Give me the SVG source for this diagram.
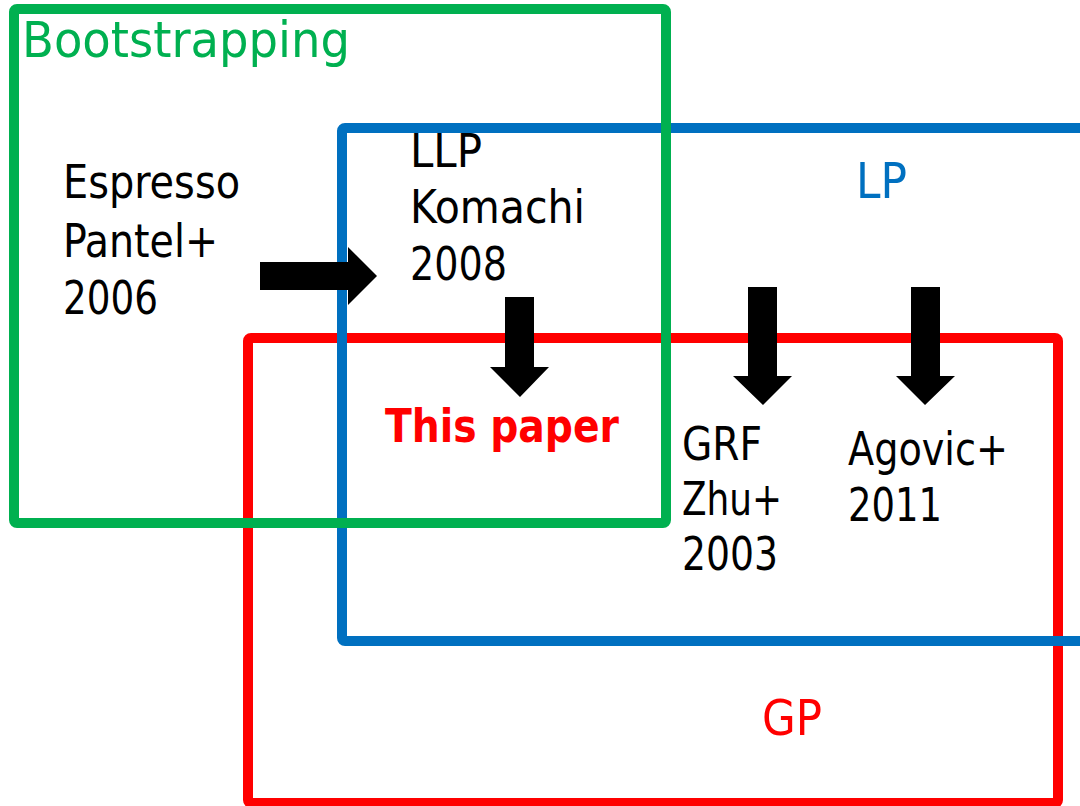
<svg xmlns="http://www.w3.org/2000/svg" width="1080" height="806" viewBox="0 0 1080 806">
<style>
.box{fill:none;stroke-width:10;stroke-linejoin:round}
.t{font-family:"DejaVu Sans Condensed","DejaVu Sans","Noto Sans",sans-serif;font-size:46px;fill:#000}
.arrow{fill:#000}
</style>
<rect width="1080" height="806" fill="#fff"/>
<g id="gp-box">
<rect class="box" x="248" y="338" width="810" height="465" rx="3" stroke="#FF0000"/>
<text class="t" x="762" y="735" style="font-size:50px;fill:#FF0000" textLength="60" lengthAdjust="spacingAndGlyphs">GP</text>
</g>
<g id="lp-box">
<rect class="box" x="342" y="128" width="780" height="513" rx="3" stroke="#0070C0"/>
<text class="t" x="856" y="198" style="font-size:50px;fill:#0070C0" textLength="51" lengthAdjust="spacingAndGlyphs">LP</text>
</g>
<g id="bootstrapping-box">
<rect class="box" x="14" y="9" width="652" height="514" rx="3" stroke="#00B050"/>
<text class="t" x="22" y="57" style="font-size:50px;fill:#00B050" textLength="328" lengthAdjust="spacingAndGlyphs">Bootstrapping</text>
</g>
<g id="connectors">
<polygon class="arrow" points="260,262 348,262 348,247 377,276 348,305 348,290 260,290"/>
<polygon class="arrow" points="505,297 534,297 534,367 549,367 520,397 490,367 505,367"/>
<polygon class="arrow" points="748,287 777,287 777,376 792,376 763,405 733,376 748,376"/>
<polygon class="arrow" points="911,287 940,287 940,376 955,376 925,405 896,376 911,376"/>
</g>
<g id="espresso">
<text class="t" x="63" y="198" textLength="177" lengthAdjust="spacingAndGlyphs">Espresso</text>
<text class="t" x="63" y="257" textLength="155" lengthAdjust="spacingAndGlyphs">Pantel+</text>
<text class="t" x="63" y="314" textLength="95" lengthAdjust="spacingAndGlyphs">2006</text>
</g>
<g id="llp">
<text class="t" x="410" y="167" textLength="72" lengthAdjust="spacingAndGlyphs">LLP</text>
<text class="t" x="410" y="223" textLength="175" lengthAdjust="spacingAndGlyphs">Komachi</text>
<text class="t" x="410" y="280" textLength="97" lengthAdjust="spacingAndGlyphs">2008</text>
</g>
<g id="this-paper">
<text class="t" x="385" y="442" style="font-size:47px;font-weight:bold;fill:#FF0000" textLength="234" lengthAdjust="spacingAndGlyphs">This paper</text>
</g>
<g id="grf">
<text class="t" x="682" y="460" textLength="80" lengthAdjust="spacingAndGlyphs">GRF</text>
<text class="t" x="682" y="515" textLength="100" lengthAdjust="spacingAndGlyphs">Zhu+</text>
<text class="t" x="682" y="570" textLength="96" lengthAdjust="spacingAndGlyphs">2003</text>
</g>
<g id="agovic">
<text class="t" x="848" y="465" textLength="160" lengthAdjust="spacingAndGlyphs">Agovic+</text>
<text class="t" x="848" y="521" textLength="94" lengthAdjust="spacingAndGlyphs">2011</text>
</g>
</svg>
